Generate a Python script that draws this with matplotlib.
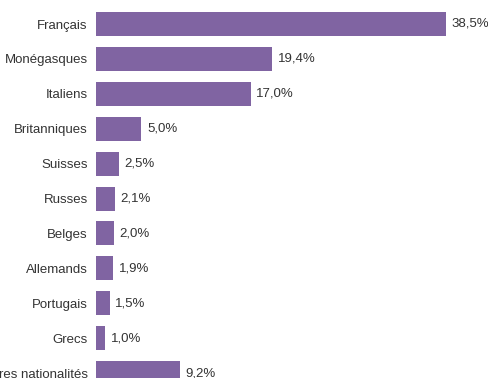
import matplotlib.pyplot as plt

plt.rcParams['font.family'] = ['Liberation Sans Narrow', 'Liberation Sans', 'DejaVu Sans']

nationalites = ['Français', 'Monégasques', 'Italiens', 'Britanniques', 'Suisses', 'Russes',
                'Belges', 'Allemands', 'Portugais', 'Grecs', 'Autres nationalités']
parts = [38.5, 19.4, 17.0, 5.0, 2.5, 2.1, 2.0, 1.9, 1.5, 1.0, 9.2]
etiquettes = ['38,5%', '19,4%', '17,0%', '5,0%', '2,5%', '2,1%', '2,0%', '1,9%', '1,5%', '1,0%', '9,2%']

W, H = 489, 378
fig = plt.figure(figsize=(W / 100, H / 100), dpi=100)

left = 96
width = 380
pitch = 34.9
top_center = 24
ax = fig.add_axes([left / W, 0, width / W, 1])

pos = list(range(len(nationalites)))
ax.barh(pos, parts, height=24 / pitch, color='#8064a2')
ax.set_xlim(0, width / 9.09)
ax.set_ylim((H - top_center) / pitch, -top_center / pitch)

for y, v, t in zip(pos, parts, etiquettes):
    ax.annotate(t, (v, y), xytext=(4, 0), textcoords='offset points',
                va='center', ha='left', fontsize=9.5, color='#333333')

ax.set_yticks(pos)
ax.set_yticklabels(nationalites, fontsize=9.5, color='#333333')
ax.tick_params(axis='y', length=0, pad=6)
ax.set_xticks([])
for s in ax.spines.values():
    s.set_visible(False)
ax.patch.set_alpha(0)

fig.savefig('out.png', dpi=100)
